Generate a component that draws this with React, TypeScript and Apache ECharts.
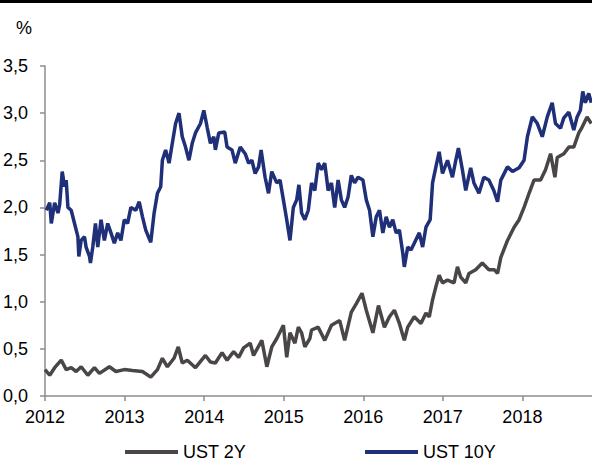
import React, { useEffect, useRef } from "react";
import * as echarts from "echarts";

// Decimal-year positions and values (%)
const years10Y = [
  2012.016, 2012.059, 2012.079, 2012.121, 2012.163, 2012.184, 2012.216, 2012.246, 2012.266, 2012.288,
  2012.329, 2012.371, 2012.413, 2012.425, 2012.454, 2012.496, 2012.516, 2012.559, 2012.571, 2012.6,
  2012.634, 2012.663, 2012.704, 2012.746, 2012.788, 2012.829, 2012.871, 2012.913, 2012.954, 2012.996,
  2013.038, 2013.079, 2013.141, 2013.184, 2013.225, 2013.266, 2013.329, 2013.371, 2013.413, 2013.454,
  2013.475, 2013.516, 2013.559, 2013.6, 2013.641, 2013.684, 2013.725, 2013.766, 2013.809, 2013.85,
  2013.891, 2013.954, 2013.996, 2014.038, 2014.079, 2014.121, 2014.141, 2014.184, 2014.259, 2014.288,
  2014.35, 2014.391, 2014.454, 2014.516, 2014.559, 2014.6, 2014.641, 2014.684, 2014.716, 2014.766,
  2014.809, 2014.85, 2014.913, 2014.954, 2014.996, 2015.038, 2015.079, 2015.121, 2015.163, 2015.191,
  2015.225, 2015.266, 2015.309, 2015.35, 2015.391, 2015.434, 2015.475, 2015.516, 2015.559, 2015.6,
  2015.641, 2015.684, 2015.725, 2015.766, 2015.809, 2015.85, 2015.891, 2015.934, 2015.996, 2016.038,
  2016.079, 2016.121, 2016.163, 2016.204, 2016.246, 2016.288, 2016.329, 2016.371, 2016.413, 2016.454,
  2016.496, 2016.516, 2016.559, 2016.6, 2016.641, 2016.704, 2016.746, 2016.788, 2016.841, 2016.871,
  2016.913, 2016.954, 2016.996, 2017.059, 2017.121, 2017.163, 2017.196, 2017.246, 2017.288, 2017.35,
  2017.391, 2017.454, 2017.516, 2017.579, 2017.641, 2017.688, 2017.729, 2017.813, 2017.875, 2017.959,
  2018.021, 2018.063, 2018.125, 2018.188, 2018.25, 2018.313, 2018.375, 2018.416, 2018.479, 2018.521,
  2018.584, 2018.646, 2018.688, 2018.729, 2018.759, 2018.791, 2018.834, 2018.866,
];
const values10Y = [
  1.97, 2.05, 1.83, 2.05, 1.94, 2.03, 2.38, 2.22, 2.29, 2.0,
  1.97, 1.83, 1.69, 1.48, 1.65, 1.69, 1.58, 1.48, 1.41, 1.58,
  1.83, 1.58, 1.87, 1.65, 1.83, 1.73, 1.62, 1.73, 1.65, 1.87,
  1.83, 2.0, 1.97, 2.06, 1.9, 1.76, 1.63, 1.94, 2.15, 2.22,
  2.5, 2.61, 2.47, 2.68, 2.89, 3.0, 2.75, 2.64, 2.5, 2.68,
  2.79, 2.89, 3.03, 2.85, 2.68, 2.75, 2.61, 2.79, 2.8, 2.64,
  2.61, 2.47, 2.64, 2.57, 2.47, 2.5, 2.36, 2.43, 2.61, 2.32,
  2.15, 2.38, 2.26, 2.29, 2.08, 1.87, 1.65, 2.0, 2.08, 2.24,
  1.94, 1.87, 1.97, 2.26, 2.18, 2.47, 2.4, 2.47, 2.18, 2.26,
  2.0, 2.29, 2.08, 2.0, 2.11, 2.34, 2.26, 2.32, 2.29, 2.08,
  1.97, 1.69, 1.9, 1.97, 1.73, 1.9, 1.79, 1.87, 1.73, 1.76,
  1.52, 1.37, 1.58, 1.55, 1.62, 1.73, 1.58, 1.79, 1.87, 2.26,
  2.43, 2.59, 2.36, 2.5, 2.32, 2.5, 2.63, 2.4, 2.18, 2.42,
  2.26, 2.15, 2.32, 2.29, 2.18, 2.06, 2.29, 2.43, 2.38, 2.42,
  2.5, 2.75, 2.96, 2.89, 2.75, 2.96, 3.11, 2.89, 2.84, 2.95,
  3.01, 2.82, 2.96, 3.03, 3.23, 3.11, 3.21, 3.11,
];

const years2Y = [
  2012.0, 2012.059, 2012.121, 2012.204, 2012.266, 2012.329, 2012.391, 2012.454, 2012.538, 2012.621,
  2012.684, 2012.809, 2012.891, 2012.996, 2013.1, 2013.225, 2013.329, 2013.413, 2013.475, 2013.538,
  2013.621, 2013.675, 2013.725, 2013.788, 2013.891, 2014.016, 2014.079, 2014.141, 2014.225, 2014.288,
  2014.371, 2014.434, 2014.496, 2014.579, 2014.621, 2014.725, 2014.788, 2014.85, 2014.913, 2014.996,
  2015.038, 2015.079, 2015.141, 2015.184, 2015.225, 2015.266, 2015.329, 2015.35, 2015.434, 2015.516,
  2015.6, 2015.704, 2015.766, 2015.85, 2015.913, 2015.984, 2016.038, 2016.121, 2016.191, 2016.266,
  2016.329, 2016.391, 2016.454, 2016.516, 2016.559, 2016.641, 2016.725, 2016.788, 2016.829, 2016.871,
  2016.913, 2016.954, 2016.996, 2017.059, 2017.141, 2017.184, 2017.225, 2017.288, 2017.329, 2017.413,
  2017.496, 2017.579, 2017.646, 2017.688, 2017.729, 2017.813, 2017.896, 2017.959, 2018.021, 2018.084,
  2018.146, 2018.229, 2018.291, 2018.354, 2018.409, 2018.438, 2018.521, 2018.584, 2018.646, 2018.709,
  2018.75, 2018.813, 2018.866,
];
const values2Y = [
  0.28, 0.22, 0.3, 0.38, 0.28, 0.3, 0.26, 0.31, 0.22, 0.3,
  0.24, 0.31, 0.26, 0.28, 0.27, 0.26, 0.2, 0.28, 0.4, 0.31,
  0.4, 0.52, 0.35, 0.38, 0.3, 0.43, 0.36, 0.35, 0.46, 0.38,
  0.47, 0.41, 0.51, 0.56, 0.43, 0.59, 0.31, 0.52, 0.61, 0.75,
  0.41, 0.67, 0.56, 0.73, 0.67, 0.52, 0.61, 0.7, 0.73, 0.59,
  0.75, 0.8, 0.59, 0.89, 0.98, 1.09, 0.91, 0.67, 0.96, 0.73,
  0.84, 0.91, 0.77, 0.59, 0.73, 0.84, 0.77, 0.88, 0.84, 1.02,
  1.16, 1.28, 1.2, 1.23, 1.2, 1.37, 1.26, 1.2, 1.3, 1.34,
  1.41, 1.34, 1.34, 1.3, 1.47, 1.65, 1.79, 1.87, 2.0, 2.15,
  2.29, 2.29, 2.4, 2.57, 2.32, 2.53, 2.57, 2.64, 2.64, 2.79,
  2.85, 2.96, 2.89,
];

const seriesNames = ["UST 2Y", "UST 10Y"];
const seriesColors = ["#4a4648", "#1f2f78"];
const yTicks = { min: 0, max: 3.5, step: 0.5 };
const xRange = { min: 2012, max: 2018.875, step: 1 };
const unitLabel = "%";

const FONT = "Arial, 'Liberation Sans', sans-serif";

export default function App() {
  const ref = useRef<HTMLDivElement>(null);

  useEffect(() => {
    if (!ref.current) return;
    const chart = echarts.init(ref.current, null, { renderer: "svg" });
    const zip = (xs: number[], ys: number[]) => xs.map((x, i) => [x, ys[i]]);
    const axisColor = "#8c8c8c";
    chart.setOption({
      animation: false,
      textStyle: { fontFamily: FONT },
      grid: { left: 42, right: 0, top: 66, bottom: 65, containLabel: false },
      graphic: [
        { type: "rect", left: 0, top: 0, shape: { width: 592, height: 3 }, style: { fill: "#000" } },
        {
          type: "text",
          x: 24,
          y: 28,
          style: {
            text: unitLabel,
            fontSize: 18,
            fontFamily: FONT,
            fill: "#000",
            textAlign: "center",
            textVerticalAlign: "middle",
          },
        },
      ],
      legend: {
        left: 125,
        top: 443,
        padding: 0,
        icon: "rect",
        itemWidth: 53,
        itemHeight: 4,
        itemGap: 119,
        textStyle: { fontSize: 18, color: "#000", fontFamily: FONT },
        data: seriesNames,
      },
      xAxis: {
        type: "value",
        min: xRange.min,
        max: xRange.max,
        interval: xRange.step,
        axisLine: { show: true, lineStyle: { color: axisColor, width: 1.5 } },
        axisTick: { show: true, inside: false, length: 5, lineStyle: { color: axisColor, width: 1.5 } },
        splitLine: { show: false },
        axisLabel: {
          margin: 12,
          fontSize: 18,
          color: "#000",
          fontFamily: FONT,
          showMaxLabel: false,
          formatter: (v: number) => (Number.isInteger(v) ? String(v) : ""),
        },
      },
      yAxis: {
        type: "value",
        min: yTicks.min,
        max: yTicks.max,
        interval: yTicks.step,
        axisLine: { show: true, lineStyle: { color: axisColor, width: 1.5 } },
        axisTick: { show: true, inside: false, length: 5, lineStyle: { color: axisColor, width: 1.5 } },
        splitLine: { show: false },
        axisLabel: {
          margin: 17,
          fontSize: 18,
          color: "#000",
          fontFamily: FONT,
          formatter: (v: number) => v.toFixed(1).replace(".", ","),
        },
      },
      series: [
        {
          name: seriesNames[0],
          type: "line",
          data: zip(years2Y, values2Y),
          showSymbol: false,
          symbol: "none",
          lineStyle: { color: seriesColors[0], width: 3.5 },
          itemStyle: { color: seriesColors[0] },
        },
        {
          name: seriesNames[1],
          type: "line",
          data: zip(years10Y, values10Y),
          showSymbol: false,
          symbol: "none",
          lineStyle: { color: seriesColors[1], width: 3.5 },
          itemStyle: { color: seriesColors[1] },
        },
      ],
    });
    return () => chart.dispose();
  }, []);

  return (
    <div
      ref={ref}
      style={{ position: "fixed", left: 0, top: 0, width: 592, height: 461, background: "#fff" }}
    />
  );
}
